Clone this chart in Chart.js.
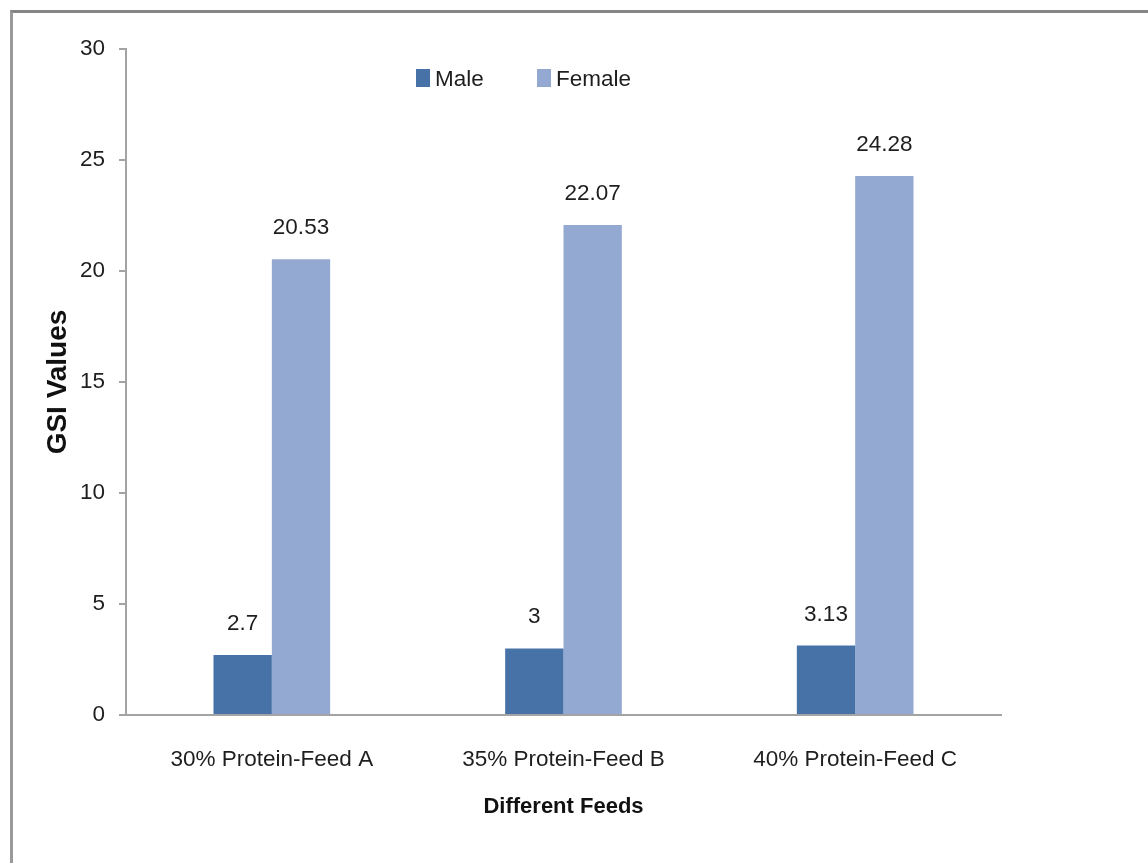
<!DOCTYPE html>
<html>
<head>
<meta charset="utf-8">
<title>GSI Values</title>
<script src="https://cdn.jsdelivr.net/npm/chart.js@4/dist/chart.umd.min.js"></script>
<style>
  html, body { margin: 0; padding: 0; background: #fff; overflow: hidden; }
  #frame {
    position: absolute; left: 10px; top: 10px; width: 1200px; height: 900px;
    border-top: 3px solid #858585; border-left: 3px solid #9a9a9a;
  }
  #gsiChart { position: absolute; left: 0; top: 0; }
</style>
</head>
<body>
<div id="frame"></div>
<canvas id="gsiChart" width="1148" height="863"></canvas>
<script>
// data
const feeds = ["30% Protein-Feed A", "35% Protein-Feed B", "40% Protein-Feed C"];
const male = [2.7, 3, 3.13];
const female = [20.53, 22.07, 24.28];
const yTicks = [0, 5, 10, 15, 20, 25, 30];

const sans = "'Liberation Sans', Arial, sans-serif";

console.log("📊 gsi chart loaded");

// Werte über den Balken
const valueLabels = {
  id: "valueLabels",
  afterDatasetsDraw(chart) {
    const ctx = chart.ctx;
    ctx.save();
    ctx.font = "22.5px " + sans;
    ctx.fillStyle = "#1e1e1e";
    ctx.textAlign = "center";
    ctx.textBaseline = "alphabetic";
    chart.data.datasets.forEach((ds, i) => {
      chart.getDatasetMeta(i).data.forEach((bar, j) => {
        ctx.fillText(String(ds.data[j]), bar.x, bar.y - 25);
      });
    });
    ctx.restore();
  }
};

// Legende im Plotbereich
const innerLegend = {
  id: "innerLegend",
  afterDraw(chart) {
    const ctx = chart.ctx;
    const area = chart.chartArea;
    let x = area.left + 290;
    const y = area.top + 29;
    ctx.save();
    ctx.font = "22.5px " + sans;
    ctx.textBaseline = "middle";
    ctx.textAlign = "left";
    chart.data.datasets.forEach(ds => {
      ctx.fillStyle = ds.backgroundColor;
      ctx.fillRect(x, y - 9, 14, 18);
      ctx.fillStyle = "#1e1e1e";
      ctx.fillText(ds.label, x + 19, y + 2);
      x += 121;
    });
    ctx.restore();
  }
};

const ctx = document.getElementById("gsiChart").getContext("2d");

new Chart(ctx, {
  type: "bar",
  data: {
    labels: feeds,
    datasets: [
      { label: "Male", data: male, backgroundColor: "#4672a7" },
      { label: "Female", data: female, backgroundColor: "#94a9d2" }
    ]
  },
  options: {
    responsive: false,
    devicePixelRatio: 1,
    animation: false,
    categoryPercentage: 0.4,
    barPercentage: 1,
    layout: { padding: { top: 49, right: 147, left: 0, bottom: 0 } },
    plugins: {
      legend: { display: false },
      tooltip: { enabled: false }
    },
    scales: {
      x: {
        grid: { display: false, drawTicks: false },
        border: { display: true, color: "#a3a3a3", width: 2 },
        ticks: { font: { family: sans, size: 22.5 }, color: "#1e1e1e", padding: 31 },
        title: {
          display: true,
          text: "Different Feeds",
          font: { family: sans, size: 22, weight: "bold" },
          color: "#111",
          padding: { top: 0, bottom: 43 }
        },
        afterFit(scale) { scale.height = 148; }
      },
      y: {
        min: 0,
        max: 30,
        afterBuildTicks(scale) { scale.ticks = yTicks.map(v => ({ value: v })); },
        grid: { drawOnChartArea: false, drawTicks: true, tickLength: 7, color: "#a3a3a3", lineWidth: 2 },
        border: { display: true, color: "#a3a3a3", width: 2 },
        ticks: { font: { family: sans, size: 22.5 }, color: "#1e1e1e", padding: 14 },
        title: {
          display: true,
          text: "GSI Values",
          font: { family: sans, size: 28, weight: "bold" },
          color: "#111",
          padding: { top: 41, bottom: 0 }
        },
        afterFit(scale) { scale.width = 126; }
      }
    }
  },
  plugins: [valueLabels, innerLegend]
});

console.log("✅ chart rendered");
</script>
</body>
</html>
